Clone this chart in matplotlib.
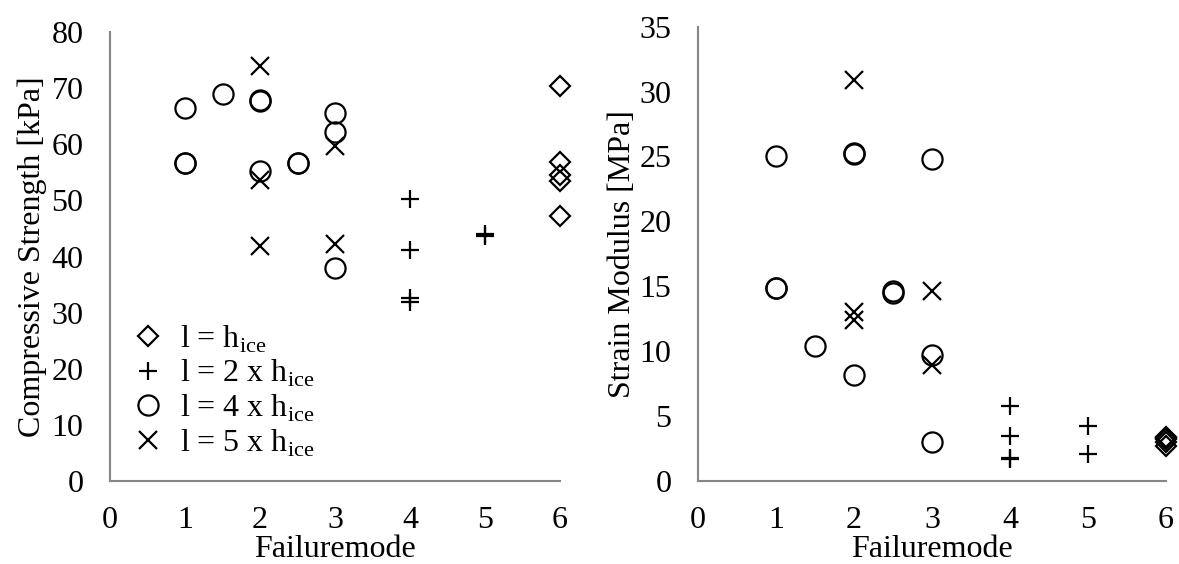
import matplotlib
matplotlib.use("Agg")
import matplotlib.pyplot as plt

plt.rcParams['font.family'] = ['Liberation Serif', 'DejaVu Serif']
plt.rcParams['mathtext.fontset'] = 'custom'
plt.rcParams['mathtext.rm'] = 'Liberation Serif'

# Failure mode vs. compressive strength [kPa] and strain modulus [MPa]
diamond_mode = [6, 6, 6, 6, 6]
diamond_strength = [70.3, 56.9, 54.5, 53.4, 47.2]
diamond_modulus = [3.4, 3.3, 3.2, 3.0, 2.7]

plus_mode = [4, 4, 4, 4, 5, 5]
plus_strength = [50.2, 41.2, 32.6, 31.9, 44.0, 43.7]
plus_modulus = [5.8, 3.5, 1.8, 1.7, 4.2, 2.1]

circle_mode = [1, 1, 1, 1.5, 2, 2, 2, 2.5, 2.5, 3, 3, 3]
circle_strength = [66.4, 56.7, 56.6, 69.0, 67.9, 67.7, 55.3, 56.7, 56.6, 65.6, 62.2, 37.9]
circle_modulus = [25.0, 14.9, 14.9, 10.4, 25.3, 25.2, 8.2, 14.6, 14.5, 24.8, 9.7, 3.0]

cross_mode = [2, 2, 2, 3, 3]
cross_strength = [74.0, 53.7, 41.9, 59.7, 42.3]
cross_modulus = [30.9, 13.0, 12.4, 14.6, 8.9]

labels = ['l = h$_\\mathregular{ice}$',
          'l = 2 x h$_\\mathregular{ice}$',
          'l = 4 x h$_\\mathregular{ice}$',
          'l = 5 x h$_\\mathregular{ice}$']

x_ticks = [0, 1, 2, 3, 4, 5, 6]
strength_ticks = [0, 10, 20, 30, 40, 50, 60, 70, 80]
modulus_ticks = [0, 5, 10, 15, 20, 25, 30, 35]

series = [
    (diamond_mode, diamond_strength, diamond_modulus, 'D', 10.5),
    (plus_mode, plus_strength, plus_modulus, '+', 13.5),
    (circle_mode, circle_strength, circle_modulus, 'o', 14.5),
    (cross_mode, cross_strength, cross_modulus, 'x', 12.5),
]

FS = 23

fig = plt.figure(figsize=(11.79, 5.64), dpi=100)
ax1 = fig.add_axes([0.0933, 0.1472, 0.3817, 0.796])
ax2 = fig.add_axes([0.592, 0.1472, 0.397, 0.8055])

spine_color = '#868686'
for ax in (ax1, ax2):
    for side in ('top', 'right'):
        ax.spines[side].set_visible(False)
    for side in ('left', 'bottom'):
        ax.spines[side].set_color(spine_color)
        ax.spines[side].set_linewidth(1.5)
    ax.set_xlim(0, 6)
    ax.set_xticks(x_ticks)
    ax.tick_params(axis='both', length=0, labelsize=FS, colors='black')
    ax.tick_params(axis='x', pad=18)
    ax.tick_params(axis='y', pad=19)
    ax.set_xlabel('Failuremode', fontsize=FS, labelpad=0)

for (mode, strength, modulus, marker, ms), label in zip(series, labels):
    ax1.plot(mode, strength, linestyle='none', marker=marker, markersize=ms,
             markerfacecolor='none', markeredgecolor='black',
             markeredgewidth=1.6, label=label, clip_on=False)
    ax2.plot(mode, modulus, linestyle='none', marker=marker, markersize=ms,
             markerfacecolor='none', markeredgecolor='black',
             markeredgewidth=1.6, clip_on=False)

ax1.set_ylim(0, 80)
ax1.set_yticks(strength_ticks)
ax1.set_ylabel('Compressive Strength [kPa]', fontsize=FS, labelpad=3)

ax2.set_ylim(0, 35)
ax2.set_yticks(modulus_ticks)
ax2.set_ylabel('Strain Modulus [MPa]', fontsize=FS, labelpad=2)

ax1.legend(loc='lower left', bbox_to_anchor=(0.0, 0.0), frameon=False,
           fontsize=FS, handlelength=1.0, handletextpad=0.5,
           labelspacing=0.1, borderaxespad=0.3)

fig.savefig('out.png', dpi=100)
